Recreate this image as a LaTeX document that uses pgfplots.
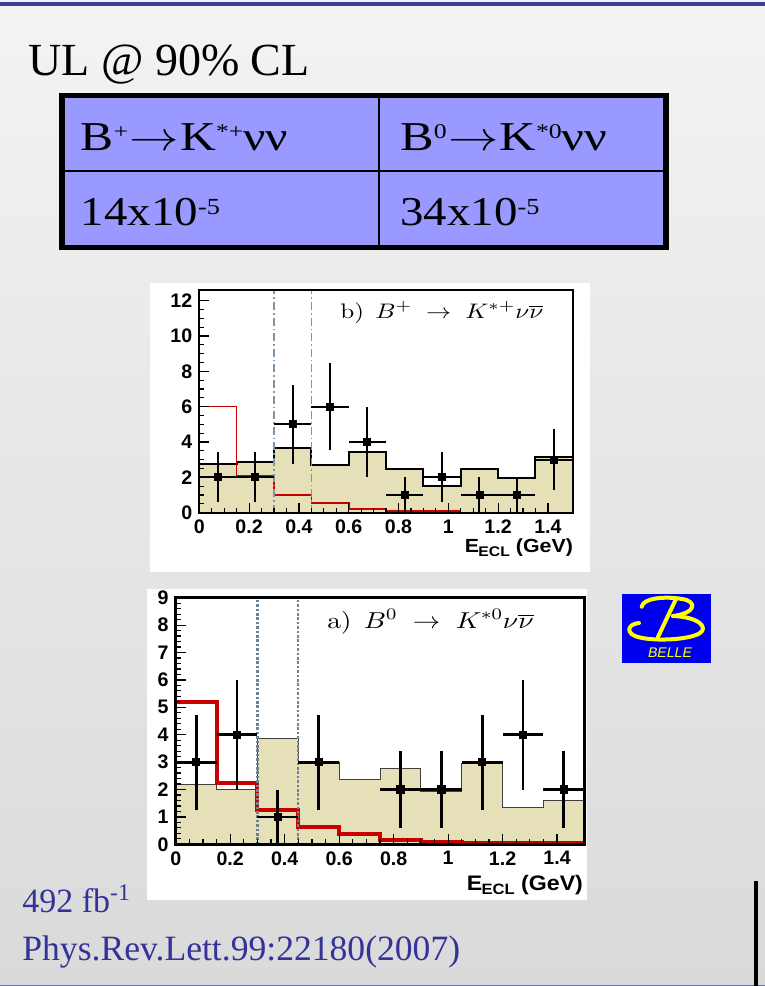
\RequirePackage{fix-cm}
\documentclass[border=0pt]{standalone}
\usepackage[no-math]{fontspec}
\setmainfont{Liberation Serif}
\setsansfont{Liberation Sans}
\usepackage{pgfplots}
\pgfplotsset{compat=1.18}
\usepackage{graphicx}
\definecolor{slidetop}{RGB}{243,243,243}
\definecolor{slidebot}{RGB}{218,218,218}
\definecolor{barblue}{RGB}{62,62,152}
\definecolor{botline}{RGB}{110,110,165}
\definecolor{tabfill}{RGB}{153,153,255}
\definecolor{txtblue}{RGB}{51,51,153}
\definecolor{beige}{RGB}{230,224,185}
\definecolor{rootred}{RGB}{200,0,0}
\definecolor{cutline}{RGB}{128,148,165}
\definecolor{cutlinea}{RGB}{110,130,150}
\definecolor{belleblue}{RGB}{0,0,240}
\definecolor{belleyel}{RGB}{255,255,0}
\newcommand\sups[1]{\raisebox{6pt}{\fontsize{10.5}{10.5}\selectfont #1}}
\newcommand\supx[1]{\raisebox{5.5pt}{\fontsize{11.5}{11.5}\selectfont #1}}
\pgfplotsset{
  rootaxis/.style={
    scale only axis,
    xmin=0, xmax=1.5, ymin=0,
    xtick={0,0.2,0.4,0.6,0.8,1,1.2,1.4},
    xticklabels={0,0.2,0.4,0.6,0.8,1,1.2,1.4},
    minor x tick num=3,
    xtick pos=left, ytick pos=left, tick align=inside,
    major tick length=5pt, minor tick length=2.5pt,
    tick style={black, line width=0.6pt},
    tick label style={font=\fontsize{9.8}{10}\selectfont\sffamily\bfseries},
    /pgf/number format/assume math mode=true,
    axis on top,
    axis background/.style={fill=white},
  }
}
\begin{document}
\begin{tikzpicture}
\path[use as bounding box] (0,0) rectangle (382.5pt,-493pt);
\begin{scope}[x=0.5pt,y=0.5pt]
  % slide background
  \shade[top color=slidetop, bottom color=slidebot] (0,0) rectangle (765,-986);
  \fill[barblue] (0,-1.5) rectangle (765,-6);
  \draw[botline, line width=0.6pt] (0,-985.4) -- (765,-985.4);
  \fill[black] (753.5,-881) rectangle (757.5,-986);
  % title
  \node[anchor=base west, inner sep=0] at (28,-75) {\fontsize{23}{26}\selectfont UL @ 90\% CL};
  % table
  \fill[tabfill] (62,-95.5) rectangle (666,-247.5);
  \draw[black, line width=1pt] (379,-95.5) -- (379,-247.5);
  \draw[black, line width=1pt] (62,-171) -- (666,-171);
  \draw[black, line width=2.8pt] (62,-95.5) rectangle (666,-247.5);
  \node[anchor=base west, inner sep=0] at (80.5,-150.5) {\fontsize{20.5}{24}\selectfont\resizebox{103.5pt}{\height}{B\sups{+}\kern0.5pt$\rightarrow$\kern0.5pt K\sups{*+}νν}};
  \node[anchor=base west, inner sep=0] at (400,-150.5) {\fontsize{20.5}{24}\selectfont\resizebox{103.5pt}{\height}{B\sups{0}\kern0.5pt$\rightarrow$\kern0.5pt K\sups{*0}νν}};
  \node[anchor=base west, inner sep=0] at (80.5,-225) {\fontsize{20.5}{24}\selectfont\resizebox{69.5pt}{\height}{14x10\supx{-5}}};
  \node[anchor=base west, inner sep=0] at (400,-225) {\fontsize{20.5}{24}\selectfont\resizebox{69.5pt}{\height}{34x10\supx{-5}}};
  % plot panels
  \fill[white] (150,-283) rectangle (590,-572);
  \fill[white] (147,-589) rectangle (587,-900);
  % Belle logo
  \fill[belleblue] (621.5,-593.5) rectangle (710.5,-663.3);
  \begin{scope}[belleyel, line width=2pt, line cap=round, line join=round]
    \draw (641.7,-606.7) .. controls (643,-598) and (665,-596) .. (682,-599)
          .. controls (697,-601) and (697,-613) .. (673,-616);
    \draw (673,-616) .. controls (700,-617) and (708,-628) .. (700,-633)
          .. controls (690,-640) and (650,-642) .. (635,-636)
          .. controls (626,-632) and (628,-624) .. (639,-623);
    \draw (676,-599) -- (658,-637);
  \end{scope}
  \node[anchor=base, inner sep=0] at (670,-657.7) {\color{belleyel}\resizebox{22pt}{\height}{\fontsize{7}{8}\selectfont\sffamily\itshape BELLE}};
  % bottom text
  \node[anchor=base west, inner sep=0, text=txtblue] at (22,-912.7) {\fontsize{17}{20}\selectfont 492 fb\textsuperscript{-1}};
  \node[anchor=base west, inner sep=0, text=txtblue] at (22,-960) {\fontsize{17.8}{20}\selectfont Phys.Rev.Lett.99:22180(2007)};
\end{scope}

% ---------------- plot b) B+ ----------------
\begin{axis}[rootaxis,
  at={(99.65pt,-256.35pt)}, anchor=south west,
  width=186.75pt, height=111.35pt,
  ymax=12.6,
  ytick={0,2,4,6,8,10,12}, minor y tick num=3,
  axis line style={line width=1pt},
]
\addplot[const plot, fill=beige, draw=black, line width=1pt] coordinates {
 (0,2.75) (0.15,2.85) (0.3,3.65) (0.45,2.7) (0.6,3.43) (0.75,2.45) (0.9,1.5) (1.05,2.45) (1.2,1.96) (1.35,3.17) (1.5,3.17)} \closedcycle;
\addplot[const plot, draw=rootred, line width=0.8pt] coordinates {
 (0,6) (0.15,2.1) (0.3,1.0) (0.45,0.55) (0.6,0.2) (0.75,0.11) (0.9,0.1) (1.05,0.1)};
\addplot[cutline, line width=0.6pt, dash pattern=on 4pt off 1.5pt on 0.8pt off 1.5pt] coordinates {(0.3,0) (0.3,12.6)};
\addplot[cutline, line width=0.6pt, dash pattern=on 4pt off 1.5pt on 0.8pt off 1.5pt] coordinates {(0.45,0) (0.45,12.6)};
\addplot[only marks, mark=square*, mark size=1.75pt, black,
  error bars/.cd, x dir=both, x explicit, y dir=both, y explicit,
  error mark=none, error bar style={line width=1pt, black}]
 coordinates {
 (0.075,2) +- (0.075,1.414)
 (0.225,2) +- (0.075,1.414)
 (0.375,5) +- (0.075,2.236)
 (0.525,6) +- (0.075,2.449)
 (0.675,4) +- (0.075,2.0)
 (0.825,1) +- (0.075,1.0)
 (0.975,2) +- (0.075,1.414)
 (1.125,1) +- (0.075,1.0)
 (1.275,1) +- (0.075,1.0)
 (1.425,3) +- (0.075,1.732)
 };
\end{axis}

% ---------------- plot a) B0 ----------------
\begin{axis}[rootaxis,
  at={(87.85pt,-422.15pt)}, anchor=south west,
  width=204.3pt, height=123.3pt,
  ymax=9,
  ytick={0,1,2,3,4,5,6,7,8,9}, minor y tick num=4,
  axis line style={line width=1.4pt},
]
\addplot[const plot, fill=beige, draw=black!75, line width=0.5pt] coordinates {
 (0,2.2) (0.15,2.0) (0.3,3.87) (0.45,3.0) (0.6,2.38) (0.75,2.78) (0.9,1.91) (1.05,2.94) (1.2,1.35) (1.35,1.61) (1.5,1.61)} \closedcycle;
\addplot[const plot, draw=rootred, line width=2pt] coordinates {
 (0,5.18) (0.15,2.24) (0.3,1.26) (0.45,0.62) (0.6,0.37) (0.75,0.15) (0.9,0.09) (1.05,0.06) (1.2,0.06) (1.35,0.03) (1.5,0.03)};
\addplot[cutlinea, line width=1.2pt, dash pattern=on 1.3pt off 0.9pt] coordinates {(0.3,0) (0.3,9)};
\addplot[cutlinea, line width=1.2pt, dash pattern=on 1.3pt off 0.9pt] coordinates {(0.45,0) (0.45,9)};
\addplot[only marks, mark=square*, mark size=1.85pt, black,
  error bars/.cd, x dir=both, x explicit, y dir=both, y explicit,
  error mark=none, error bar style={line width=1.4pt, black}]
 coordinates {
 (0.075,3) +- (0.075,1.732)
 (0.225,4) +- (0.075,2.0)
 (0.375,1) +- (0.075,1.0)
 (0.525,3) +- (0.075,1.732)
 (0.825,2) +- (0.075,1.414)
 (0.975,2) +- (0.075,1.414)
 (1.125,3) +- (0.075,1.732)
 (1.275,4) +- (0.075,2.0)
 (1.425,2) +- (0.075,1.414)
 };
\end{axis}

\begin{scope}[x=0.5pt,y=0.5pt]
  \node[anchor=base west, inner sep=0] at (340,-318.3) {\fontsize{10.5}{12}\selectfont\resizebox{101.5pt}{\height}{$\mathrm{b)}\;\,B^{+}\;\rightarrow\;K^{*+}\nu\overline{\nu}$}};
  \node[anchor=base west, inner sep=0] at (326.7,-628.3) {\fontsize{11.5}{13}\selectfont\resizebox{103.3pt}{\height}{$\mathrm{a)}\;\,B^{0}\;\rightarrow\;K^{*0}\nu\overline{\nu}$}};
  \node[anchor=base east, inner sep=0] at (573.3,-552) {\resizebox{54pt}{\height}{\fontsize{9.5}{10}\selectfont\sffamily\bfseries E\kern-0.3pt{\fontsize{7}{7}\selectfont\raisebox{-2pt}{ECL}} (GeV)}};
  \node[anchor=base east, inner sep=0] at (583.3,-890) {\resizebox{58pt}{\height}{\fontsize{10.5}{12}\selectfont\sffamily\bfseries E\kern-0.3pt{\fontsize{7.5}{7.5}\selectfont\raisebox{-2.3pt}{ECL}} (GeV)}};
\end{scope}
\end{tikzpicture}
\end{document}
